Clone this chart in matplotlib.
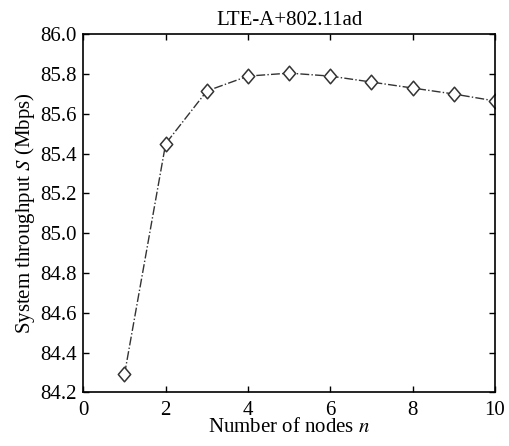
import matplotlib
matplotlib.use("Agg")
import matplotlib.pyplot as plt
from matplotlib.path import Path

plt.rcParams['font.family'] = ['Liberation Serif', 'DejaVu Serif']
plt.rcParams['mathtext.fontset'] = 'stix'

# data
nodes = [1, 2, 3, 4, 5, 6, 7, 8, 9, 10]
throughput = [84.29, 85.45, 85.715, 85.79, 85.805, 85.79, 85.76, 85.73, 85.70, 85.665]
x_ticks = [0, 2, 4, 6, 8, 10]
y_ticks = [84.2, 84.4, 84.6, 84.8, 85.0, 85.2, 85.4, 85.6, 85.8, 86.0]

# slightly tall diamond like the MATLAB one
diamond = Path([(0, 1), (0.85, 0), (0, -1), (-0.85, 0), (0, 1)],
               [Path.MOVETO, Path.LINETO, Path.LINETO, Path.LINETO, Path.CLOSEPOLY])

fig = plt.figure(figsize=(5.09, 4.46), dpi=100)
ax = fig.add_axes([0.1637, 0.1204, 0.8088, 0.8026])

ax.plot(nodes, throughput, linestyle='-.', color='#333333', linewidth=1.0,
        marker=diamond, markersize=10.5, markerfacecolor='white',
        markeredgecolor='#333333', markeredgewidth=1.1)

ax.set_xlim(0, 10)
ax.set_ylim(84.2, 86.0)
ax.set_xticks(x_ticks)
ax.set_yticks(y_ticks)
ax.set_yticklabels([f"{v:.1f}" for v in y_ticks])
ax.tick_params(direction='in', top=True, right=True, labelsize=15, length=4, width=1)
ax.tick_params(axis='x', pad=6)
ax.tick_params(axis='y', pad=5)
for s in ax.spines.values():
    s.set_linewidth(1.2)

ax.set_title("LTE-A+802.11ad", fontsize=15, pad=7)
ax.set_xlabel("Number of nodes $n$", fontsize=15, labelpad=-1)
ax.set_ylabel("System throughput $S$ (Mbps)", fontsize=15, labelpad=2)

fig.savefig("out.png", dpi=100)
